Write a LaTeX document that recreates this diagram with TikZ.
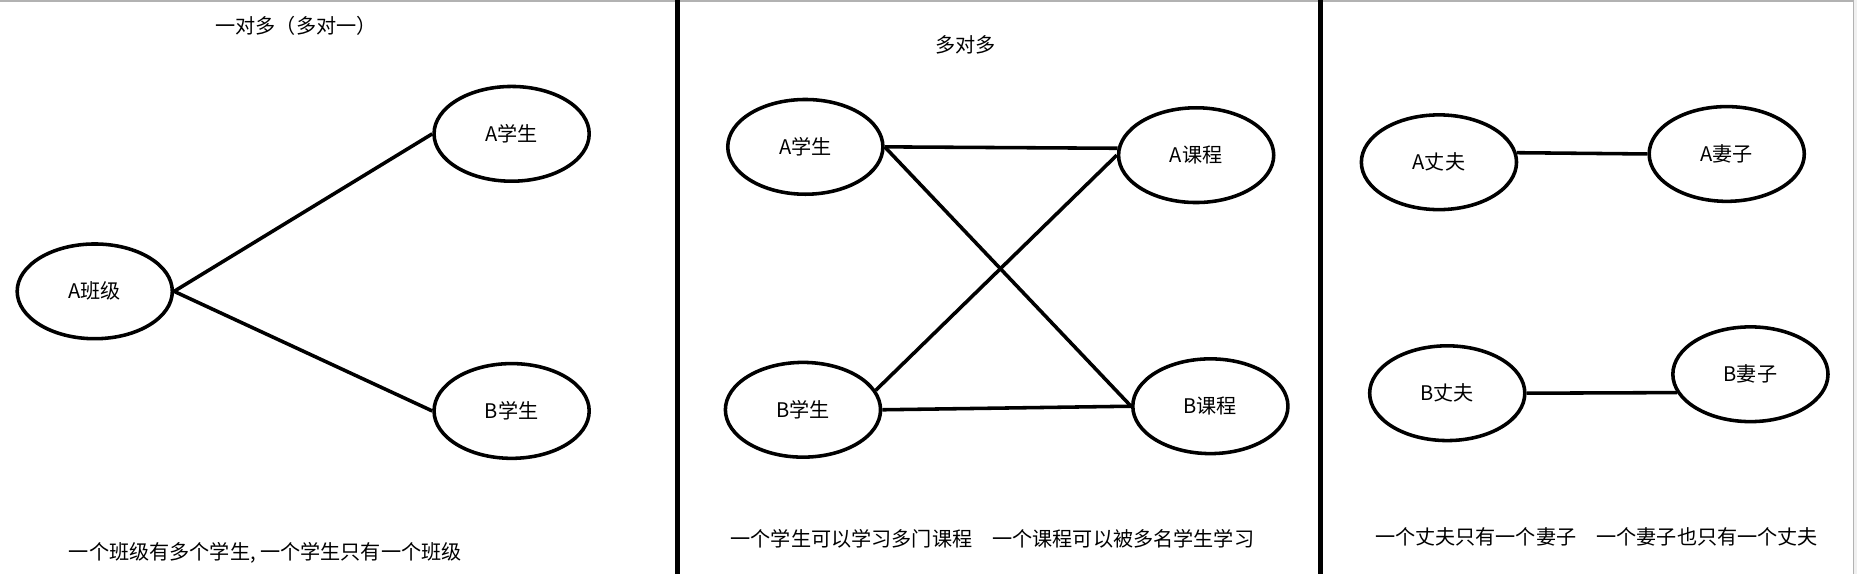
\documentclass[tikz,border=0pt]{standalone}
\usepackage{fontspec}
\setmainfont{Noto Sans CJK SC}
\usetikzlibrary{shapes.geometric}

\begin{document}
\begin{tikzpicture}[x=1pt,y=-1pt,
    entity/.style={draw, ellipse, line width=3pt, minimum width=131pt, minimum height=80pt, inner sep=0pt, font=\fontsize{17}{20}\selectfont},
    link/.style={line width=3pt},
    caption/.style={inner sep=0pt, font=\fontsize{17}{20}\selectfont}]
    \useasboundingbox (0,0) rectangle (1568,485);
    \fill[white] (0,0) rectangle (1568,485);
    \fill[gray!12] (1565,0) rectangle (1568,485);
    \draw[gray!60, line width=1.5pt] (0,0.75) -- (1565,0.75);
    \draw[gray!60] (1565,0) -- (1565,485);

    \draw[line width=4pt] (572,0) -- (572,485);
    \draw[line width=4pt] (1115,0) -- (1115,485);

    % one to many
    \node[caption] (title1) at (250,22) {一对多（多对一）};
    \node[entity] (cls) at (80,246) {A班级};
    \node[entity] (stuA) at (432,113) {A学生};
    \node[entity] (stuB) at (432,347) {B学生};
    \draw[link] (cls.east) -- (stuA.west);
    \draw[link] (cls.east) -- (stuB.west);
    \node[caption] (note1) at (224,467) {一个班级有多个学生, 一个学生只有一个班级};

    % many to many
    \node[caption] (title2) at (815,38) {多对多};
    \node[entity] (stuC) at (680,124) {A学生};
    \node[entity] (stuD) at (678,346) {B学生};
    \node[entity] (crsA) at (1010,131) {A课程};
    \node[entity] (crsB) at (1022,343) {B课程};
    \draw[link] (stuC.east) -- (crsA.175);
    \draw[link] (stuC.east) -- (crsB.west);
    \draw[link] (stuD.15) -- (crsA.west);
    \draw[link] (stuD.east) -- (crsB.west);
    \node[caption] (note2) at (838,455) {一个学生可以学习多门课程\quad 一个课程可以被多名学生学习};

    % one to one
    \node[entity] (husA) at (1215,137) {A丈夫};
    \node[entity] (wifA) at (1458,130) {A妻子};
    \node[entity] (husB) at (1222,332) {B丈夫};
    \node[entity] (wifB) at (1478,316) {B妻子};
    \draw[link] (husA.7) -- (wifA.west);
    \draw[link] (husB.east) -- (wifB.194);
    \node[caption] (note3) at (1348,453) {一个丈夫只有一个妻子\quad 一个妻子也只有一个丈夫};
\end{tikzpicture}
\end{document}
